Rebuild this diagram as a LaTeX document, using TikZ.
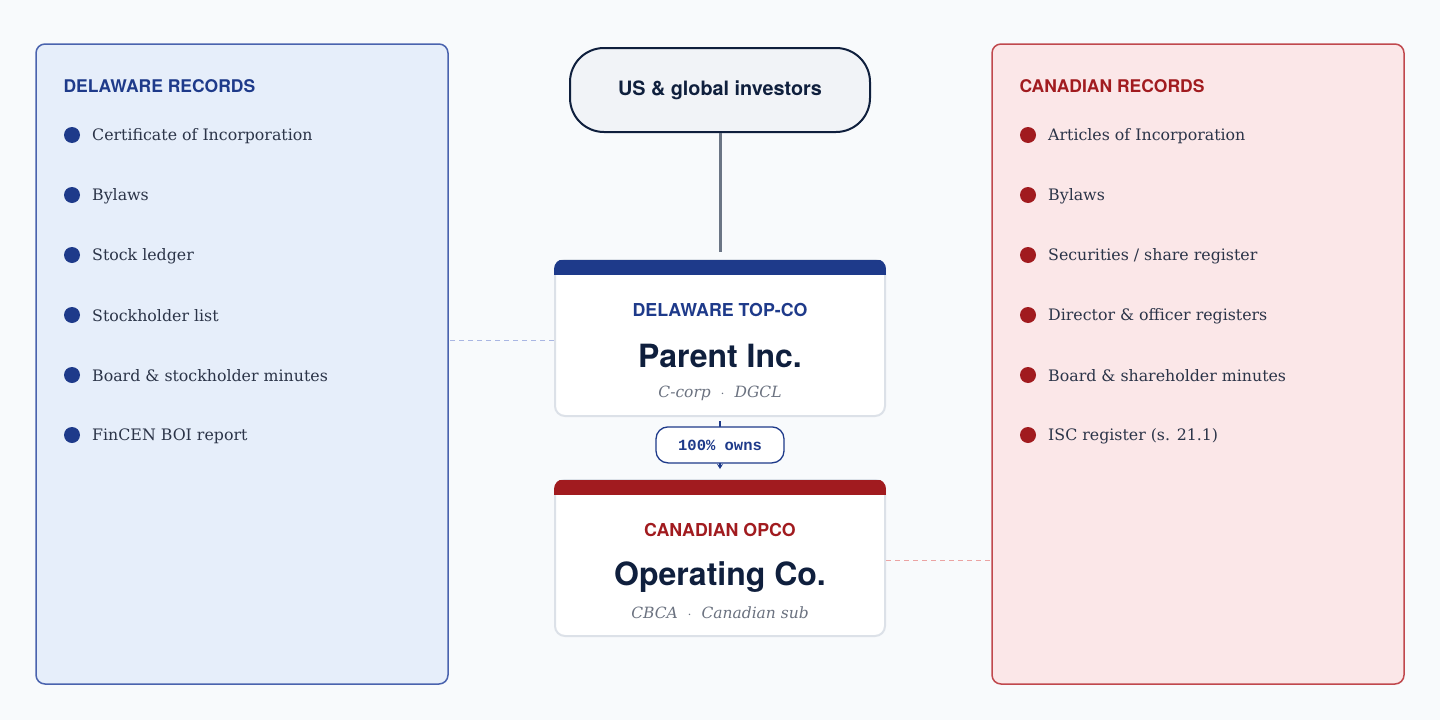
\documentclass[tikz,border=0pt]{standalone}
\usepackage{fontspec}
\setmainfont{DejaVu Serif}
\setsansfont{TeX Gyre Heros}
\setmonofont{Liberation Mono}
\usepackage{xcolor}
\usetikzlibrary{arrows.meta,calc,positioning}

\definecolor{bgcol}{HTML}{F8FAFC}
\definecolor{navy}{HTML}{0F1F3D}
\definecolor{itemcol}{HTML}{2B3448}
\definecolor{delblue}{HTML}{1E3A8A}
\definecolor{canred}{HTML}{A11B1F}
\definecolor{delfill}{HTML}{E6EEFA}
\definecolor{deledge}{HTML}{4A63AE}
\definecolor{canfill}{HTML}{FBE7E8}
\definecolor{canedge}{HTML}{C0484D}
\definecolor{cardedge}{HTML}{DCE1E8}
\definecolor{linkgray}{HTML}{6B7585}
\definecolor{subgray}{HTML}{6B7280}
\definecolor{deldashcol}{HTML}{A9B6E3}
\definecolor{candashcol}{HTML}{EBA3A3}
\definecolor{pillfill}{HTML}{F1F3F7}

\begin{document}
\begin{tikzpicture}[x=1pt,y=-1pt,>=Stealth,line join=round,
  panel/.style={rounded corners=9pt,line width=1.5pt,minimum width=412pt,minimum height=640pt},
  heading/.style={anchor=west,font=\sffamily\bfseries\fontsize{17.5}{20}\selectfont},
  item/.style={anchor=west,inner sep=0pt,text=itemcol,font=\fontsize{15.8}{19}\selectfont},
  card/.style={draw=cardedge,fill=white,line width=2pt,rounded corners=10pt,minimum width=330pt,minimum height=156pt},
  cardtag/.style={font=\sffamily\bfseries\fontsize{17.8}{20}\selectfont},
  cardname/.style={text=navy,font=\sffamily\bfseries\fontsize{32}{36}\selectfont},
  cardsub/.style={text=subgray,font=\itshape\fontsize{15.5}{19}\selectfont},
  ownlabel/.style={draw=delblue,fill=white,line width=1.3pt,rounded corners=12pt,minimum width=128pt,minimum height=36pt,inner sep=0pt,text=delblue,font=\ttfamily\bfseries\fontsize{15.5}{18}\selectfont}]
  \fill[bgcol] (0,0) rectangle (1440,720);
  \useasboundingbox (0,0) rectangle (1440,720);

  % record panels
  \node[panel,draw=deledge,fill=delfill] (delpanel) at (242,364) {};
  \node[panel,draw=canedge,fill=canfill] (canpanel) at (1198,364) {};
  \node[heading,text=delblue] (delhead) at (60,86) {DELAWARE RECORDS};
  \node[heading,text=canred] (canhead) at (1016,86) {CANADIAN RECORDS};
  \foreach \txt [count=\i] in {Certificate of Incorporation,Bylaws,Stock ledger,Stockholder list,Board \& stockholder minutes,FinCEN BOI report}{
    \fill[delblue] (72,75+60*\i) circle (8pt);
    \node[item] (del\i) at (92,76+60*\i) {\txt};
  }
  \foreach \txt [count=\i] in {Articles of Incorporation,Bylaws,Securities / share register,Director \& officer registers,Board \& shareholder minutes,ISC register (s. 21.1)}{
    \fill[canred] (1028,75+60*\i) circle (8pt);
    \node[item] (can\i) at (1048,76+60*\i) {\txt};
  }

  % investors
  \node[draw=navy,fill=pillfill,line width=2pt,rounded corners=34pt,minimum width=300pt,minimum height=84pt,
    text=navy,font=\sffamily\bfseries\fontsize{19.8}{22}\selectfont] (investors) at (720,90) {US \& global investors};

  % entity cards
  \node[card] (parent) at (720,338) {};
  \begin{scope}
    \clip[rounded corners=10pt] (parent.north west) rectangle (parent.south east);
    \fill[delblue] ([shift={(-1pt,-1pt)}]parent.north west) rectangle ([yshift=-16pt]parent.north east);
  \end{scope}
  \node[cardtag,text=delblue] (parenttag) at (720,310) {DELAWARE TOP-CO};
  \node[cardname] (parentname) at (720,356) {Parent Inc.};
  \node[cardsub] (parentsub) at (720,393) {C-corp\ \ $\cdot$\ \ DGCL};

  \node[card] (opco) at (720,558) {};
  \begin{scope}
    \clip[rounded corners=10pt] (opco.north west) rectangle (opco.south east);
    \fill[canred] ([shift={(-1pt,-1pt)}]opco.north west) rectangle ([yshift=-16pt]opco.north east);
  \end{scope}
  \node[cardtag,text=canred] (opcotag) at (720,530) {CANADIAN OPCO};
  \node[cardname] (opconame) at (720,577) {Operating Co.};
  \node[cardsub] (opcosub) at (720,613) {CBCA\ \ $\cdot$\ \ Canadian sub};

  % connectors
  \draw[linkgray,line width=3pt,shorten >=7pt] (investors.south) -- (parent.north);
  \draw[->,delblue,line width=1.5pt,shorten <=4pt,shorten >=10pt,-{Stealth[length=5pt,width=6pt]}] (parent.south) -- (opco.north)
    node[ownlabel,pos=0.45] (owns) {100\% owns};
  \draw[deldashcol,line width=1pt,dash pattern=on 5pt off 4pt] ([yshift=-2pt]parent.west) -- ([yshift=-2pt]parent.west -| delpanel.east);
  \draw[candashcol,line width=1pt,dash pattern=on 5pt off 4pt] ([yshift=-2pt]opco.east) -- ([yshift=-2pt]opco.east -| canpanel.west);
\end{tikzpicture}
\end{document}
